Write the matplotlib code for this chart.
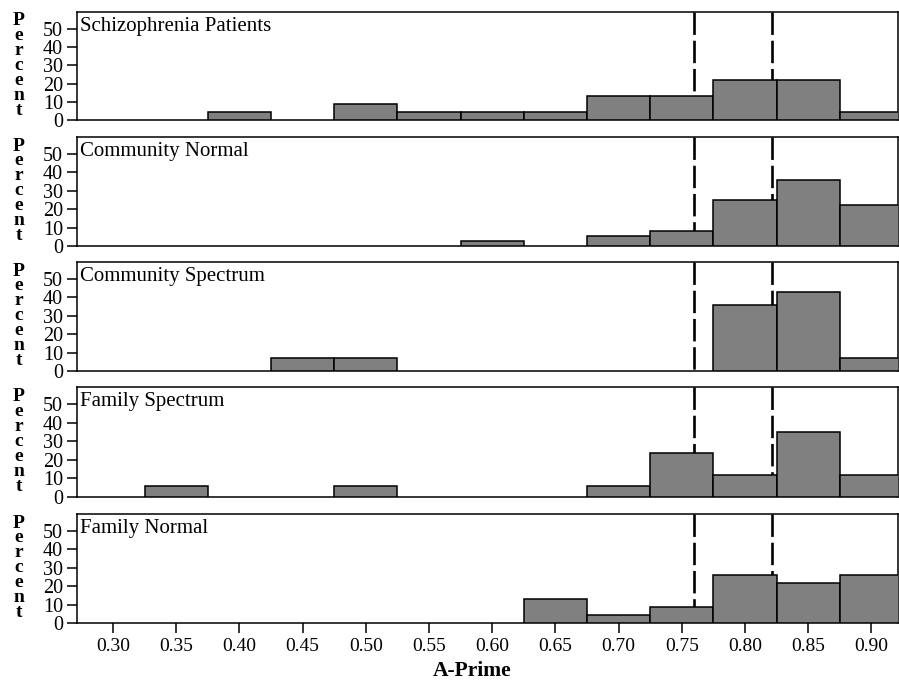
import numpy as np
import matplotlib
matplotlib.use("Agg")
import matplotlib.pyplot as plt

# --- data: percent of subjects per A-Prime bin (bin width 0.05) ---
bin_centers = [0.30, 0.35, 0.40, 0.45, 0.50, 0.55, 0.60, 0.65, 0.70, 0.75, 0.80, 0.85, 0.90]
groups = ["Schizophrenia Patients", "Community Normal", "Community Spectrum",
          "Family Spectrum", "Family Normal"]
schizophrenia = [0, 0, 4.35, 0, 8.70, 4.35, 4.35, 4.35, 13.04, 13.04, 21.74, 21.74, 4.35]
community_normal = [0, 0, 0, 0, 0, 0, 2.78, 0, 5.56, 8.33, 25.00, 36.11, 22.22]
community_spectrum = [0, 0, 0, 7.14, 7.14, 0, 0, 0, 0, 0, 35.71, 42.86, 7.14]
family_spectrum = [0, 5.88, 0, 0, 5.88, 0, 0, 0, 5.88, 23.53, 11.76, 35.29, 11.76]
family_normal = [0, 0, 0, 0, 0, 0, 0, 13.04, 4.35, 8.70, 26.09, 21.74, 26.09]
ref_lines = [0.760, 0.821]   # dashed reference lines
y_ticks = [0, 10, 20, 30, 40, 50]

series = [schizophrenia, community_normal, community_spectrum, family_spectrum, family_normal]

plt.rcParams['font.family'] = ['Liberation Serif', 'DejaVu Serif']
plt.rcParams['font.size'] = 14.5

W, H = 899, 690
fig = plt.figure(figsize=(W / 100, H / 100), dpi=100)

# panel pixel positions (top, bottom)
panel_px = [(12, 120), (137, 246), (262, 371), (387, 497), (514, 623)]
left_px, right_px = 77, 898

centers = np.array(bin_centers)
for i, (name, vals) in enumerate(zip(groups, series)):
    top, bot = panel_px[i]
    ax = fig.add_axes([left_px / W, 1 - bot / H, (right_px - left_px) / W, (bot - top) / H])
    vals = np.array(vals)
    m = vals > 0
    ax.bar(centers[m], vals[m], width=0.05, color='#808080', edgecolor='black',
           linewidth=1.1, zorder=3)
    ymax = 59.3
    for xv in ref_lines:
        ax.plot([xv, xv], [ymax, 0], color='black', linewidth=1.9,
                dashes=(8.5, 2.2), zorder=2)
    ax.set_xlim(0.2715, 0.921)
    ax.set_ylim(0, ymax)
    ax.set_yticks(y_ticks)
    ax.set_xticks(bin_centers)
    ax.tick_params(axis='y', direction='out', length=7, width=1.1, pad=3, labelsize=14.5)
    ax.tick_params(axis='x', direction='out', length=7, width=1.1, pad=4, labelsize=14)
    for sp in ax.spines.values():
        sp.set_linewidth(1.1)
    if i < len(groups) - 1:
        ax.tick_params(axis='x', bottom=False, labelbottom=False)
    else:
        ax.set_xticklabels([f"{v:.2f}" for v in bin_centers])
    ax.text(0.004, 0.955, name, transform=ax.transAxes, ha='left', va='top', fontsize=15)
    # stacked vertical label
    fig.text(19 / W, 1 - (top + bot) / 2 / H + 0.001, "\n".join("Percent"), ha='center',
             va='center', fontsize=14, fontweight='bold', linespacing=0.84)

fig.text(472 / W, 1 - 676 / H, "A-Prime", ha='center', va='baseline',
         fontsize=15.5, fontweight='bold')

fig.savefig("out.png", dpi=100)
